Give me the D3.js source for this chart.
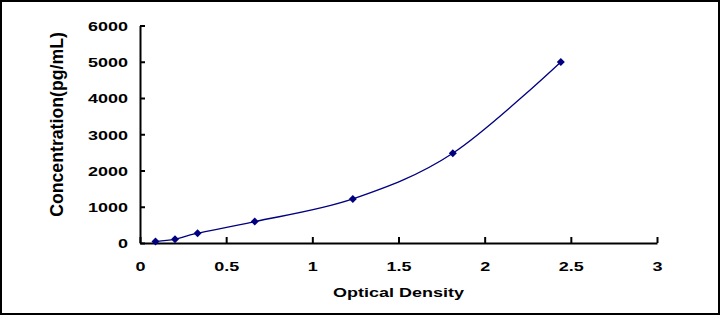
<!DOCTYPE html>
<html>
<head>
<meta charset="utf-8">
<script src="https://cdn.jsdelivr.net/npm/d3@7"></script>
<style>
  html, body { margin: 0; padding: 0; background: #fff; }
  svg { display: block; }
  text { font-family: "Liberation Sans", Arial, sans-serif; font-weight: bold; fill: #000; }
</style>
</head>
<body>
<svg id="chart" width="720" height="315"></svg>
<script>
const odValues = [0.09, 0.203, 0.334, 0.666, 1.235, 1.815, 2.442];
const concValues = [40, 105, 270, 590, 1215, 2475, 4995];
const xTicks = [0, 0.5, 1, 1.5, 2, 2.5, 3];
const xTickLabels = ["0", "0.5", "1", "1.5", "2", "2.5", "3"];
const yTicks = [0, 1000, 2000, 3000, 4000, 5000, 6000];
const xTitle = "Optical Density";
const yTitle = "Concentration(pg/mL)";

const svg = d3.select("#chart");
const W = 720, H = 315;
const squash = 0.76;

// border
svg.append("rect").attr("x", 1).attr("y", 1).attr("width", W - 2).attr("height", H - 2)
  .attr("fill", "#fff").attr("stroke", "#000").attr("stroke-width", 2);

const x = d3.scaleLinear().domain([0, 3]).range([140, 657]);
const y = d3.scaleLinear().domain([0, 6000]).range([243, 25.5]);

// X axis
const gx = svg.append("g").attr("transform", `translate(0,${y(0)})`)
  .call(d3.axisBottom(x).tickValues(xTicks).tickFormat((d, i) => xTickLabels[i])
    .tickSizeInner(-6).tickSizeOuter(0));
gx.select(".domain").attr("stroke", "#000").attr("stroke-width", 2);
gx.selectAll(".tick line").attr("stroke", "#000").attr("stroke-width", 2);
gx.selectAll(".tick text")
  .attr("y", null).attr("dy", null)
  .attr("transform", `translate(0,27.7) scale(1,${squash})`)
  .attr("font-size", 18).attr("font-family", null).attr("fill", "#000");

// Y axis
const gy = svg.append("g").attr("transform", `translate(${x(0)},0)`)
  .call(d3.axisLeft(y).tickValues(yTicks).tickFormat(d3.format("d"))
    .tickSizeInner(-5).tickSizeOuter(0));
gy.select(".domain").attr("stroke", "#000").attr("stroke-width", 2);
gy.selectAll(".tick line").attr("stroke", "#000").attr("stroke-width", 2);
gy.selectAll(".tick text")
  .attr("x", null).attr("dy", null)
  .attr("transform", `translate(-12,4.9) scale(1,${squash})`)
  .attr("text-anchor", "end")
  .attr("font-size", 18).attr("font-family", null).attr("fill", "#000");

// Axis titles
svg.append("text")
  .attr("transform", `translate(${(x(0) + x(3)) / 2},297) scale(1,${squash})`)
  .attr("text-anchor", "middle").attr("font-size", 18)
  .text(xTitle);

svg.append("text")
  .attr("transform", "translate(63,124.5) rotate(-90)")
  .attr("text-anchor", "middle").attr("font-size", 17.7)
  .text(yTitle);

// Data
const data = odValues.map((v, i) => ({ od: v, c: concValues[i] }));
const line = d3.line().x(d => x(d.od)).y(d => y(d.c)).curve(d3.curveCardinal.tension(0));
svg.append("path").datum(data)
  .attr("d", line).attr("fill", "none").attr("stroke", "#000080").attr("stroke-width", 1.3);

const diamond = "M0,-4L4,0L0,4L-4,0Z";
svg.selectAll(".pt").data(data).enter().append("path")
  .attr("class", "pt")
  .attr("d", diamond)
  .attr("transform", d => `translate(${x(d.od)},${y(d.c)})`)
  .attr("fill", "#000080");
</script>
</body>
</html>
